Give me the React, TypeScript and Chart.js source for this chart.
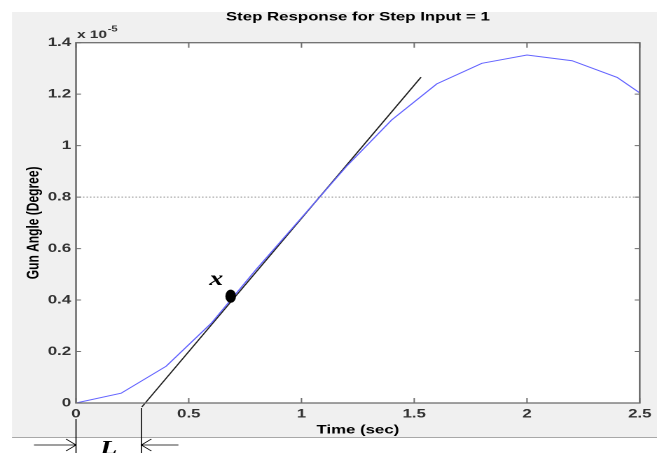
import React, { useEffect, useRef } from 'react';
import { Chart, registerables } from 'chart.js';
Chart.register(...registerables);

// ---- data ----
const timeSec = [0, 0.2, 0.4, 0.6, 0.8, 1.0, 1.2, 1.4, 1.6, 1.8, 2.0, 2.2, 2.4, 2.5];
const gunAngle = [0, 0.038, 0.143, 0.31, 0.52, 0.72, 0.92, 1.1, 1.24, 1.32, 1.352, 1.33, 1.265, 1.205];
const tangentT = [0.292, 1.53];
const tangentY = [-0.0155, 1.266];
const refLineT = [0, 2.5];
const refLineY = [0.8, 0.8];
const pointXT = [0.686];
const pointXY = [0.415];
const lagL = 0.29;
const xTicks = [0, 0.5, 1, 1.5, 2, 2.5];
const xTickLabels = ['0', '0.5', '1', '1.5', '2', '2.5'];
const yTicks = [0, 0.2, 0.4, 0.6, 0.8, 1, 1.2, 1.4];
const yTickLabels = ['0', '0.2', '0.4', '0.6', '0.8', '1', '1.2', '1.4'];

// ---- geometry (internal canvas is stretched horizontally) ----
const W = 469;
const H = 453;
const SX = 657 / W;
const FONT = "'Liberation Sans', Arial, sans-serif";
const SERIF = "'Liberation Serif', 'Times New Roman', serif";

const decor = {
  id: 'decor',
  beforeDraw(chart: any) {
    const { ctx, width, height, chartArea: a } = chart;
    ctx.save();
    ctx.fillStyle = '#ffffff';
    ctx.fillRect(0, 0, width, height);
    ctx.fillStyle = '#f0f0f0';
    ctx.fillRect(12 / SX, 12, width - 12 / SX, 437 - 12);
    ctx.fillStyle = '#ffffff';
    ctx.fillRect(a.left, a.top, a.right - a.left, a.bottom - a.top);
    ctx.strokeStyle = '#a8a8a8';
    ctx.lineWidth = 1;
    ctx.beginPath();
    ctx.moveTo(12 / SX, 437.5);
    ctx.lineTo(width, 437.5);
    ctx.stroke();
    ctx.restore();
  },
  afterDatasetsDraw(chart: any) {
    const { ctx, chartArea: a } = chart;
    const xs = chart.scales.x;
    const ys = chart.scales.y;
    ctx.save();
    // axes box
    ctx.strokeStyle = '#6e6e6e';
    ctx.lineWidth = 1.3;
    ctx.strokeRect(a.left, a.top, a.right - a.left, a.bottom - a.top);
    // inward ticks
    ctx.lineWidth = 1;
    ctx.beginPath();
    xTicks.forEach((v) => {
      const px = xs.getPixelForValue(v);
      ctx.moveTo(px, a.bottom);
      ctx.lineTo(px, a.bottom - 5);
      ctx.moveTo(px, a.top);
      ctx.lineTo(px, a.top + 5);
    });
    yTicks.forEach((v) => {
      const py = ys.getPixelForValue(v);
      ctx.moveTo(a.left, py);
      ctx.lineTo(a.left + 5 / SX, py);
      ctx.moveTo(a.right, py);
      ctx.lineTo(a.right - 5 / SX, py);
    });
    ctx.stroke();

    // exponent label
    ctx.fillStyle = '#333';
    ctx.textAlign = 'left';
    ctx.textBaseline = 'alphabetic';
    ctx.font = `bold 11px ${FONT}`;
    ctx.fillText('x 10', a.left + 1 / SX, a.top - 4.5);
    const w10 = ctx.measureText('x 10').width;
    ctx.font = `bold 8px ${FONT}`;
    ctx.fillText('-5', a.left + 1 / SX + w10 + 0.5, a.top - 11);

    // marked point x
    pointXT.forEach((t, i) => {
      const px = xs.getPixelForValue(t);
      const py = ys.getPixelForValue(pointXY[i]);
      ctx.fillStyle = '#000';
      ctx.beginPath();
      ctx.ellipse(px, py, 5.3 / SX, 6.6, 0, 0, Math.PI * 2);
      ctx.fill();
      ctx.font = `bold italic 20px ${SERIF}`;
      ctx.textAlign = 'center';
      ctx.fillText('x', px - 14.5 / SX, py - 11);
    });

    // L annotation
    const x0 = xs.getPixelForValue(0);
    const xL = xs.getPixelForValue(lagL);
    ctx.strokeStyle = '#000';
    ctx.lineWidth = 0.8;
    ctx.beginPath();
    ctx.moveTo(x0, 419);
    ctx.lineTo(x0, H);
    ctx.moveTo(xL, 408);
    ctx.lineTo(xL, H);
    const ay = 445;
    // left arrow pointing right
    ctx.moveTo(x0 - 42 / SX, ay);
    ctx.lineTo(x0, ay);
    ctx.moveTo(x0 - 10 / SX, ay - 6);
    ctx.lineTo(x0, ay);
    ctx.lineTo(x0 - 10 / SX, ay + 6);
    // right arrow pointing left
    ctx.moveTo(xL + 37 / SX, ay);
    ctx.lineTo(xL, ay);
    ctx.moveTo(xL + 10 / SX, ay - 6);
    ctx.lineTo(xL, ay);
    ctx.lineTo(xL + 10 / SX, ay + 6);
    ctx.stroke();
    ctx.fillStyle = '#000';
    ctx.font = `bold italic 20px ${SERIF}`;
    ctx.textAlign = 'center';
    ctx.fillText('L', (x0 + xL) / 2, 454);
    ctx.restore();
  },
};

export default function App() {
  const ref = useRef<HTMLCanvasElement>(null);
  useEffect(() => {
    document.body.style.margin = '0';
    const chart = new Chart(ref.current as HTMLCanvasElement, {
      type: 'line',
      data: {
        datasets: [
          {
            data: timeSec.map((t, i) => ({ x: t, y: gunAngle[i] })),
            borderColor: '#6464ff',
            borderWidth: 1,
            pointRadius: 0,
            tension: 0,
          },
          {
            data: tangentT.map((t, i) => ({ x: t, y: tangentY[i] })),
            borderColor: '#202020',
            borderWidth: 1,
            pointRadius: 0,
            clip: false as any,
          },
          {
            data: refLineT.map((t, i) => ({ x: t, y: refLineY[i] })),
            borderColor: '#8c8c8c',
            borderWidth: 1,
            borderDash: [1, 1.5],
            pointRadius: 0,
          },
        ],
      },
      options: {
        animation: false,
        responsive: true,
        maintainAspectRatio: false,
        devicePixelRatio: 2,
        events: [],
        layout: { padding: { left: 0, right: W - 641 / SX, top: 0, bottom: 0 } },
        plugins: {
          legend: { display: false },
          tooltip: { enabled: false },
          title: {
            display: true,
            text: 'Step Response for Step Input = 1',
            fullSize: false,
            color: '#000',
            font: { family: FONT, size: 12, weight: 'bold' },
            padding: { top: 10, bottom: 18.3 },
          },
        },
        scales: {
          x: {
            type: 'linear',
            min: 0,
            max: 2.5,
            grid: { display: false, drawTicks: false },
            border: { display: false },
            ticks: {
              autoSkip: false,
              maxRotation: 0,
              padding: 4,
              color: '#333',
              font: { family: FONT, size: 12, weight: 'bold' },
              callback: (_v: any, i: number) => xTickLabels[i],
            },
            afterBuildTicks: (s: any) => {
              s.ticks = xTicks.map((v) => ({ value: v }));
            },
            afterFit: (s: any) => {
              s.height = H - 403;
            },
            title: {
              display: true,
              text: 'Time (sec)',
              color: '#000',
              font: { family: FONT, size: 12, weight: 'bold' },
              padding: { top: 0, bottom: 15.8 },
            },
          },
          y: {
            type: 'linear',
            min: 0,
            max: 1.4,
            grid: { display: false, drawTicks: false },
            border: { display: false },
            ticks: {
              autoSkip: false,
              padding: 3.5,
              color: '#333',
              font: { family: FONT, size: 12, weight: 'bold' },
              callback: (_v: any, i: number) => yTickLabels[i],
            },
            afterBuildTicks: (s: any) => {
              s.ticks = yTicks.map((v) => ({ value: v }));
            },
            afterFit: (s: any) => {
              s.width = 76 / SX;
            },
            title: {
              display: true,
              text: 'Gun Angle (Degree)',
              color: '#000',
              font: { family: FONT, size: 12, weight: 'bold' },
              padding: { top: 17.1, bottom: 0 },
            },
          },
        },
      },
      plugins: [decor],
    } as any);
    return () => chart.destroy();
  }, []);
  return (
    <div
      style={{
        position: 'fixed',
        left: 0,
        top: 0,
        width: W,
        height: H,
        transform: `scaleX(${SX})`,
        transformOrigin: '0 0',
      }}
    >
      <canvas ref={ref} />
    </div>
  );
}
